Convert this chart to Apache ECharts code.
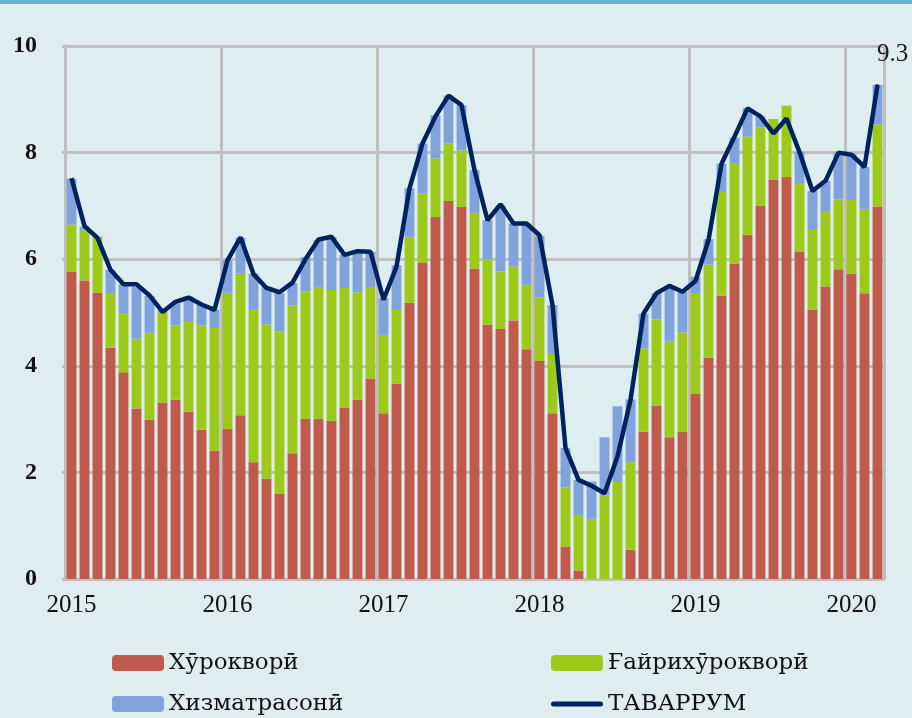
<!DOCTYPE html>
<html>
<head>
<meta charset="utf-8">
<script src="https://cdn.jsdelivr.net/npm/echarts@6/dist/echarts.min.js"></script>
<style>
	html, body { margin: 0; padding: 0; background: #deedf0; }
	#chart { width: 912px; height: 718px; }
</style>
</head>
<body>
<div id="chart"></div>
<script>
	// months Jan 2015 .. Mar 2020
	var years = ['2015', '2016', '2017', '2018', '2019', '2020']
	var months = ['01', '02', '03', '04', '05', '06', '07', '08', '09', '10', '11', '12']
	var categories = []
	for (var y = 0; y < years.length; y++) {
		for (var m = 0; m < months.length; m++) {
			if (years[y] === '2020' && m > 2) break
			categories.push(years[y] + '-' + months[m])
		}
	}

	var names = ['Хӯрокворӣ', 'Ғайрихӯрокворӣ', 'Хизматрасонӣ', 'ТАВАРРУМ']

	var food = [5.76, 5.60, 5.37, 4.34, 3.88, 3.20, 2.99, 3.31, 3.36, 3.14, 2.80, 2.41,
		2.82, 3.07, 2.19, 1.88, 1.60, 2.36, 3.00, 3.01, 2.97, 3.21, 3.37, 3.76,
		3.11, 3.66, 5.18, 5.94, 6.79, 7.09, 6.98, 5.82, 4.77, 4.69, 4.85, 4.31,
		4.09, 3.11, 0.61, 0.16, -0.05, -0.05, -0.05, 0.55, 2.76, 3.25, 2.66, 2.76,
		3.48, 4.15, 5.32, 5.92, 6.46, 7.00, 7.49, 7.54, 6.14, 5.05, 5.49, 5.81,
		5.73, 5.36, 6.99]

	var nonFood = [0.89, 0.94, 1.03, 1.01, 1.11, 1.31, 1.63, 1.70, 1.40, 1.70, 1.96, 2.30,
		2.55, 2.66, 2.86, 2.90, 3.05, 2.77, 2.40, 2.47, 2.45, 2.25, 2.01, 1.72,
		1.47, 1.39, 1.24, 1.29, 1.10, 1.08, 1.06, 1.05, 1.23, 1.08, 1.01, 1.21,
		1.19, 1.13, 1.11, 1.04, 1.13, 1.57, 1.82, 1.64, 1.57, 1.62, 1.81, 1.87,
		1.87, 1.75, 1.94, 1.87, 1.84, 1.47, 1.14, 1.34, 1.29, 1.50, 1.40, 1.31,
		1.38, 1.57, 1.54]

	var services = [0.86, 0.07, 0.02, 0.45, 0.54, 0.97, 0.69, 0.02, 0.41, 0.46, 0.38, 0.34,
		0.61, 0.67, 0.68, 0.70, 0.71, 0.42, 0.64, 0.88, 1.00, 0.62, 0.76, 0.66,
		0.69, 0.84, 0.91, 0.94, 0.81, 0.90, 0.85, 0.80, 0.73, 1.24, 0.81, 1.15,
		1.16, 0.90, 0.74, 0.66, 0.70, 1.09, 1.42, 1.18, 0.65, 0.49, 1.01, 0.76,
		0.32, 0.48, 0.53, 0.49, 0.53, 0.21, -0.05, -0.05, 0.58, 0.73, 0.58, 0.88,
		0.87, 0.80, 0.74]

	var inflation = [7.52, 6.62, 6.40, 5.80, 5.53, 5.53, 5.32, 5.01, 5.20, 5.28, 5.15, 5.05,
		5.98, 6.41, 5.72, 5.46, 5.38, 5.56, 6.00, 6.37, 6.42, 6.08, 6.15, 6.14,
		5.24, 5.86, 7.33, 8.17, 8.68, 9.07, 8.89, 7.67, 6.73, 7.03, 6.67, 6.67,
		6.45, 5.14, 2.46, 1.86, 1.75, 1.61, 2.30, 3.36, 4.98, 5.36, 5.50, 5.39,
		5.59, 6.36, 7.79, 8.30, 8.83, 8.68, 8.36, 8.64, 8.01, 7.28, 7.47, 8.00,
		7.96, 7.73, 9.27]

	var lastLabel = '9.3'

	var colors = ['#c05b4c', '#9dca1a', '#80a3dc', '#00225e']
	var gridColor = '#bfbfbf'
	var serif = '"Liberation Serif", "DejaVu Serif", serif'
	var legendFont = { fontFamily: '"DejaVu Serif", serif', fontSize: 23, color: '#111', lineHeight: 24 }
	// thin line icon inside a 52x16 box (tiny corner marks keep the box size)
	var lineIcon = 'path://M0,0L0.05,0L0,0.05Z M52,16L51.95,16L52,15.95Z M2.5,5.5L49.5,5.5A2.5,2.5,0,0,1,49.5,10.5L2.5,10.5A2.5,2.5,0,0,1,2.5,5.5Z'

	var lineData = inflation.map(function(v, i) {
		if (i === inflation.length - 1) {
			return {
				value: v,
				symbol: 'circle',
				symbolSize: 2,
				label: {
					show: true,
					formatter: lastLabel,
					position: 'top',
					offset: [15, -12],
					fontFamily: serif,
					fontSize: 25,
					color: '#1a1a1a'
				}
			}
		}
		return v
	})

	function yearTick(index) {
		return index % 12 === 0
	}

	var myChart = echarts.init(document.getElementById('chart'))
	var option = {
		backgroundColor: '#deedf0',
		animation: false,
		graphic: [{
			type: 'rect',
			left: 0,
			top: 0,
			shape: { width: 912, height: 4 },
			style: { fill: '#5db6ce' }
		}],
		legend: [{
			left: 112,
			top: 651,
			padding: 0,
			orient: 'vertical',
			itemWidth: 52,
			itemHeight: 16,
			itemGap: 17,
			data: [names[0], names[2]],
			textStyle: legendFont
		}, {
			left: 551,
			top: 651,
			padding: 0,
			orient: 'vertical',
			itemWidth: 52,
			itemHeight: 16,
			itemGap: 17,
			data: [names[1], { name: names[3], icon: lineIcon }],
			textStyle: legendFont
		}],
		grid: {
			left: 65,
			right: 28,
			top: 46,
			bottom: 139
		},
		xAxis: {
			type: 'category',
			data: categories,
			axisLine: { lineStyle: { color: gridColor, width: 3 } },
			axisTick: {
				interval: yearTick,
				length: 8,
				lineStyle: { color: gridColor, width: 3 }
			},
			axisLabel: {
				interval: yearTick,
				formatter: function(v) { return v.slice(0, 4) },
				fontFamily: serif,
				fontSize: 25,
				color: '#111',
				margin: 14
			},
			splitLine: {
				show: true,
				interval: yearTick,
				lineStyle: { color: gridColor, width: 3 }
			}
		},
		yAxis: {
			type: 'value',
			min: 0,
			max: 10,
			interval: 2,
			axisLine: { show: true, lineStyle: { color: gridColor, width: 3 } },
			axisTick: { show: true, length: 3, lineStyle: { color: gridColor, width: 3 } },
			axisLabel: {
				fontFamily: serif,
				fontSize: 24,
				fontWeight: 'bold',
				color: '#111',
				margin: 28
			},
			splitLine: { lineStyle: { color: gridColor, width: 3 } }
		},
		series: [{
			name: names[0],
			type: 'bar',
			stack: 'cpi',
			barCategoryGap: '24%',
			itemStyle: { color: colors[0] },
			data: food
		}, {
			name: names[1],
			type: 'bar',
			stack: 'cpi',
			itemStyle: { color: colors[1] },
			data: nonFood
		}, {
			name: names[2],
			type: 'bar',
			stack: 'cpi',
			itemStyle: { color: colors[2] },
			data: services
		}, {
			name: names[3],
			type: 'line',
			symbol: 'none',
			z: 5,
			lineStyle: { color: colors[3], width: 4.5 },
			itemStyle: { color: colors[3] },
			data: lineData
		}]
	}
	myChart.setOption(option)

	window.onresize = function() {
		myChart.resize()
	}
</script>
</body>
</html>
